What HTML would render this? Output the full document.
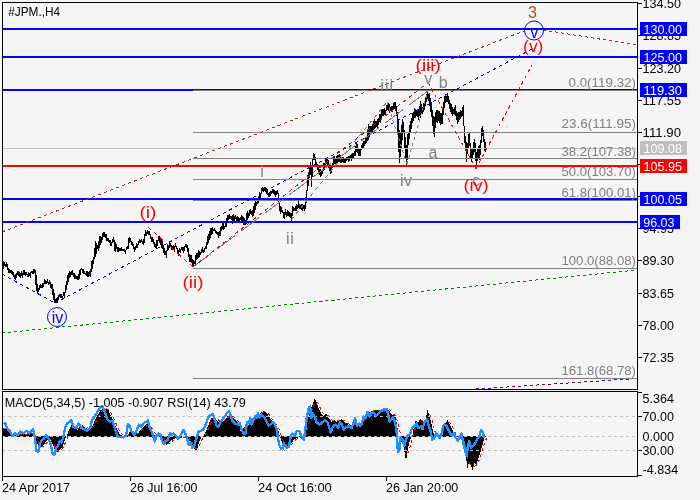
<!DOCTYPE html>
<html><head><meta charset="utf-8"><title>chart</title>
<style>
html,body{margin:0;padding:0;background:#f5f5f5;}
body{width:700px;height:500px;overflow:hidden;}
svg{display:block;font-family:"Liberation Sans",sans-serif;will-change:transform;}
</style></head><body>
<svg width="700" height="500" viewBox="0 0 700 500">
<rect x="0" y="0" width="700" height="500" fill="#f5f5f5"/>
<path d="M3.5 260.8V268.6M4.5 261.5V265.8M5.5 264.0V266.6M6.5 262.3V267.0M7.5 264.3V269.5M8.5 268.2V273.1M9.5 269.4V273.3M10.5 270.4V272.9M11.5 270.4V274.2M12.5 270.8V275.4M13.5 272.3V276.8M14.5 274.9V279.2M15.5 274.0V279.7M16.5 272.6V278.3M17.5 271.4V275.1M18.5 270.7V275.5M19.5 272.3V277.2M20.5 272.5V277.6M21.5 270.6V276.0M22.5 273.3V277.8M23.5 270.4V274.9M24.5 270.2V275.1M25.5 272.4V275.8M26.5 271.9V274.9M27.5 273.8V277.3M28.5 272.4V276.5M29.5 272.8V276.1M30.5 272.2V277.5M31.5 271.2V273.4M32.5 270.7V274.0M33.5 269.2V273.8M34.5 268.8V273.3M35.5 270.2V285.4M36.5 275.3V290.5M37.5 284.3V293.9M38.5 287.6V292.2M39.5 285.2V289.5M40.5 283.8V287.9M41.5 285.2V288.1M42.5 282.8V288.4M43.5 283.1V287.0M44.5 279.2V283.6M45.5 279.5V284.2M46.5 280.6V283.7M47.5 278.6V282.9M48.5 281.9V284.8M49.5 280.4V284.4M50.5 282.1V288.0M51.5 284.3V288.9M52.5 284.3V294.5M53.5 288.9V300.1M54.5 293.2V303.0M55.5 299.2V302.6M56.5 297.6V302.7M57.5 297.4V302.8M58.5 295.1V299.6M59.5 293.7V296.8M60.5 294.2V297.8M61.5 293.5V297.8M62.5 295.7V299.6M63.5 292.4V296.2M64.5 292.2V298.1M65.5 285.1V293.3M66.5 280.7V290.2M67.5 275.2V285.3M68.5 273.4V282.0M69.5 271.4V277.8M70.5 272.1V276.6M71.5 270.6V274.7M72.5 269.9V274.6M73.5 272.8V276.7M74.5 272.5V279.1M75.5 275.4V278.7M76.5 276.2V278.6M77.5 276.0V279.5M78.5 273.9V280.2M79.5 269.9V278.6M80.5 268.6V275.3M81.5 267.7V270.1M82.5 269.4V272.7M83.5 268.9V273.8M84.5 270.8V273.7M85.5 272.5V274.7M86.5 270.8V276.1M87.5 270.5V276.7M88.5 271.9V276.7M89.5 271.0V275.6M90.5 269.0V276.6M91.5 261.4V271.6M92.5 259.7V269.0M93.5 256.9V263.6M94.5 247.7V258.6M95.5 241.4V256.7M96.5 243.2V253.9M97.5 244.5V249.4M98.5 241.1V250.8M99.5 235.7V247.5M100.5 236.4V245.3M101.5 236.5V242.7M102.5 232.6V240.0M103.5 232.2V237.0M104.5 232.1V236.5M105.5 233.5V237.9M106.5 234.0V240.7M107.5 237.8V240.5M108.5 238.0V242.1M109.5 239.5V242.7M110.5 240.2V245.8M111.5 242.4V246.1M112.5 239.2V242.9M113.5 237.4V242.4M114.5 239.6V250.9M115.5 242.2V252.2M116.5 243.8V248.7M117.5 246.8V252.2M118.5 247.4V251.7M119.5 247.7V250.9M120.5 247.7V251.2M121.5 247.3V250.9M122.5 248.5V251.0M123.5 248.9V251.4M124.5 248.6V252.3M125.5 249.6V254.4M126.5 246.7V250.1M127.5 246.2V249.2M128.5 237.9V248.8M129.5 237.1V243.1M130.5 238.2V242.2M131.5 240.7V244.6M132.5 242.0V245.6M133.5 244.4V248.7M134.5 247.3V252.4M135.5 246.4V250.4M136.5 243.0V248.4M137.5 244.4V247.7M138.5 241.2V245.3M139.5 239.1V242.6M140.5 240.3V242.8M141.5 239.1V242.4M142.5 240.8V244.2M143.5 239.3V244.6M144.5 233.9V242.8M145.5 230.0V236.3M146.5 232.1V236.4M147.5 230.2V233.5M148.5 231.4V234.6M149.5 231.2V234.6M150.5 234.1V238.5M151.5 236.8V242.4M152.5 236.7V242.1M153.5 239.3V243.5M154.5 242.1V246.7M155.5 244.0V247.5M156.5 239.7V248.7M157.5 239.6V246.1M158.5 236.0V240.7M159.5 236.4V242.6M160.5 238.8V244.6M161.5 238.3V248.2M162.5 240.8V249.4M163.5 244.9V252.8M164.5 248.0V255.3M165.5 251.4V255.2M166.5 249.8V258.2M167.5 244.7V251.2M168.5 244.6V250.0M169.5 242.2V247.6M170.5 242.6V246.9M171.5 244.7V250.0M172.5 246.1V249.6M173.5 244.9V249.2M174.5 245.9V251.5M175.5 243.3V247.0M176.5 245.7V249.3M177.5 248.1V254.0M178.5 250.1V255.5M179.5 248.0V252.4M180.5 249.2V252.6M181.5 246.5V249.7M182.5 247.2V251.3M183.5 247.0V253.3M184.5 245.9V250.6M185.5 243.9V247.0M186.5 244.1V247.8M187.5 244.9V252.0M188.5 248.2V257.3M189.5 253.7V262.1M190.5 255.3V262.4M191.5 255.0V262.8M192.5 259.1V266.5M193.5 259.9V265.7M194.5 260.5V264.1M195.5 255.3V264.4M196.5 252.7V259.9M197.5 253.3V259.4M198.5 250.3V258.0M199.5 250.9V256.6M200.5 251.8V254.9M201.5 249.2V252.8M202.5 246.7V251.5M203.5 249.7V253.3M204.5 247.5V251.8M205.5 245.6V248.7M206.5 241.5V249.2M207.5 236.3V244.9M208.5 233.6V243.4M209.5 230.7V240.3M210.5 227.9V237.6M211.5 228.0V234.8M212.5 226.6V234.1M213.5 228.5V230.9M214.5 228.1V231.4M215.5 229.6V233.4M216.5 230.8V234.3M217.5 231.5V234.7M218.5 232.0V237.6M219.5 230.9V235.6M220.5 226.6V235.7M221.5 225.5V230.9M222.5 222.9V228.8M223.5 223.4V230.4M224.5 225.6V229.0M225.5 221.5V227.3M226.5 217.6V226.8M227.5 214.5V222.2M228.5 215.3V220.1M229.5 214.1V219.3M230.5 216.4V219.4M231.5 215.7V219.7M232.5 214.9V224.3M233.5 213.9V223.3M234.5 216.1V222.8M235.5 215.4V218.5M236.5 216.8V222.9M237.5 216.4V220.5M238.5 217.4V223.0M239.5 217.8V223.0M240.5 216.7V219.9M241.5 214.5V220.7M242.5 216.4V220.7M243.5 217.4V224.5M244.5 218.4V224.9M245.5 219.7V225.4M246.5 212.8V223.5M247.5 211.2V220.3M248.5 213.4V218.1M249.5 210.4V215.9M250.5 209.4V214.3M251.5 210.5V214.9M252.5 210.2V216.5M253.5 205.5V216.2M254.5 202.8V213.4M255.5 200.2V209.5M256.5 201.5V205.9M257.5 198.5V204.0M258.5 196.0V202.7M259.5 192.2V199.4M260.5 193.8V198.4M261.5 188.2V194.3M262.5 186.5V191.4M263.5 187.6V191.5M264.5 187.1V191.2M265.5 186.9V191.5M266.5 188.0V194.3M267.5 190.0V194.5M268.5 193.0V197.2M269.5 192.2V196.5M270.5 190.6V196.2M271.5 191.3V194.3M272.5 189.0V193.0M273.5 188.9V194.3M274.5 189.9V195.3M275.5 191.4V196.5M276.5 190.8V194.7M277.5 189.7V193.5M278.5 193.0V204.1M279.5 202.3V210.5M280.5 205.9V214.1M281.5 206.6V212.3M282.5 209.6V213.4M283.5 211.8V217.7M284.5 212.4V219.0M285.5 208.9V215.0M286.5 211.7V216.7M287.5 210.0V215.6M288.5 211.4V216.3M289.5 212.0V217.3M290.5 213.3V218.4M291.5 213.3V221.5M292.5 205.7V215.6M293.5 207.2V210.9M294.5 207.8V210.8M295.5 206.2V211.0M296.5 204.3V210.6M297.5 204.7V208.7M298.5 201.2V207.7M299.5 203.5V208.8M300.5 204.6V208.6M301.5 203.6V210.3M302.5 204.2V210.5M303.5 204.8V209.1M304.5 204.8V210.6M305.5 197.1V208.7M306.5 190.4V203.0M307.5 174.8V190.9M308.5 172.4V185.6M309.5 166.0V178.0M310.5 162.2V174.8M311.5 166.4V186.8M312.5 158.0V177.2M313.5 153.3V160.0M314.5 154.4V159.8M315.5 156.8V164.0M316.5 161.6V165.8M317.5 164.2V170.0M318.5 165.9V173.6M319.5 169.4V175.0M320.5 168.9V177.2M321.5 170.3V176.0M322.5 168.8V173.8M323.5 162.7V171.2M324.5 162.8V169.5M325.5 159.2V165.0M326.5 158.8V164.1M327.5 157.7V165.2M328.5 159.8V168.2M329.5 164.5V171.2M330.5 165.8V173.7M331.5 165.2V172.8M332.5 162.6V168.2M333.5 157.1V164.6M334.5 155.9V164.0M335.5 158.0V165.3M336.5 155.9V163.0M337.5 154.9V162.8M338.5 155.1V162.2M339.5 154.4V162.4M340.5 155.0V162.8M341.5 156.5V162.5M342.5 156.8V162.2M343.5 156.5V163.4M344.5 158.6V163.2M345.5 159.4V162.8M346.5 157.4V161.0M347.5 156.5V160.3M348.5 156.2V162.2M349.5 155.6V161.0M350.5 155.0V158.5M351.5 153.9V161.0M352.5 152.5V159.2M353.5 152.7V158.0M354.5 151.4V156.1M355.5 146.4V155.6M356.5 143.0V152.0M357.5 143.6V153.2M358.5 149.4V155.6M359.5 148.6V156.2M360.5 147.8V155.7M361.5 144.8V150.1M362.5 143.0V148.9M363.5 141.1V148.4M364.5 141.0V146.0M365.5 136.7V143.6M366.5 136.7V143.4M367.5 129.0V141.1M368.5 123.8V139.7M369.5 125.5V136.7M370.5 125.8V134.2M371.5 125.7V133.1M372.5 124.2V133.3M373.5 120.7V129.9M374.5 118.9V128.7M375.5 120.6V128.3M376.5 120.9V127.0M377.5 118.6V127.9M378.5 117.5V125.2M379.5 113.6V121.9M380.5 113.5V123.3M381.5 108.8V119.7M382.5 108.5V115.7M383.5 108.6V116.4M384.5 107.9V114.8M385.5 110.1V114.8M386.5 104.5V110.8M387.5 101.9V110.3M388.5 103.1V110.8M389.5 104.1V112.8M390.5 106.5V110.7M391.5 106.2V111.9M392.5 105.5V111.5M393.5 103.2V109.3M394.5 102.3V109.2M395.5 102.2V110.7M396.5 106.2V116.0M397.5 111.5V131.7M398.5 119.0V152.0M399.5 129.5V162.5M400.5 132.5V156.5M401.5 125.0V149.0M402.5 119.0V140.0M403.5 122.0V132.5M404.5 129.5V147.5M405.5 137.0V158.0M406.5 144.5V164.7M407.5 134.0V160.0M408.5 132.5V144.5M409.5 125.0V138.5M410.5 120.5V132.5M411.5 118.0V129.0M412.5 113.0V123.0M413.5 111.5V120.5M414.5 108.2V117.5M415.5 109.2V118.2M416.5 110.0V116.1M417.5 109.2V116.7M418.5 108.5V119.7M419.5 105.5V116.0M420.5 101.0V117.5M421.5 104.0V114.5M422.5 106.8V113.7M423.5 103.2V112.2M424.5 100.5V109.5M425.5 96.5V105.5M426.5 94.1V102.0M427.5 91.0V99.0M428.5 94.3V101.1M429.5 93.0V105.6M430.5 98.2V112.0M431.5 101.9V117.1M432.5 109.9V125.9M433.5 116.3V133.6M434.5 116.7V137.3M435.5 111.6V127.6M436.5 110.2V122.3M437.5 110.1V123.2M438.5 111.0V120.6M439.5 111.0V122.9M440.5 112.7V124.8M441.5 112.9V123.7M442.5 107.0V123.9M443.5 101.9V115.4M444.5 96.2V108.2M445.5 96.2V103.4M446.5 96.1V101.8M447.5 95.4V101.6M448.5 96.3V104.0M449.5 100.0V108.7M450.5 103.3V112.2M451.5 104.3V114.1M452.5 107.3V115.8M453.5 109.1V113.8M454.5 106.5V115.3M455.5 104.9V115.7M456.5 110.7V119.6M457.5 113.0V124.0M458.5 112.0V122.0M459.5 111.6V120.0M460.5 110.4V119.0M461.5 110.7V116.9M462.5 107.0V116.0M463.5 104.7V126.0M464.5 125.5V143.0M465.5 136.0V149.0M466.5 141.5V161.7M467.5 143.0V153.5M468.5 134.0V149.0M469.5 133.0V146.0M470.5 143.0V158.0M471.5 149.0V161.7M472.5 147.5V158.0M473.5 141.5V155.0M474.5 138.5V152.0M475.5 143.0V161.0M476.5 152.0V164.7M477.5 149.0V161.0M478.5 146.0V158.0M479.5 144.5V159.5M480.5 140.0V155.0M481.5 128.0V143.0M482.5 125.6V135.5M483.5 130.0V141.5M484.5 138.5V150.5M485.5 141.5V152.0" stroke="#000" stroke-width="1" fill="none" shape-rendering="crispEdges"/>
<rect x="3" y="148" width="634" height="1" fill="#c0c0c0"/>
<rect x="3" y="28" width="634" height="2" fill="#0000ff"/>
<rect x="3" y="56" width="634" height="2" fill="#0000ff"/>
<rect x="3" y="89" width="634" height="2" fill="#0000ff"/>
<rect x="3" y="198" width="634" height="2" fill="#0000ff"/>
<rect x="3" y="221" width="634" height="2" fill="#0000ff"/>
<rect x="193" y="90" width="444" height="1" fill="#808080"/>
<rect x="193" y="132" width="444" height="1" fill="#808080"/>
<rect x="193" y="158" width="444" height="1" fill="#808080"/>
<rect x="193" y="179" width="444" height="1" fill="#808080"/>
<rect x="193" y="200" width="444" height="1" fill="#808080"/>
<rect x="193" y="268" width="444" height="1" fill="#808080"/>
<rect x="193" y="378" width="444" height="1" fill="#808080"/>
<rect x="3" y="165" width="634" height="2" fill="#ff0000"/>
<text x="568.5" y="87" font-size="13" fill="#808080" textLength="67.5" lengthAdjust="spacingAndGlyphs">0.0(119.32)</text>
<text x="561.5" y="128" font-size="13" fill="#808080" textLength="74.5" lengthAdjust="spacingAndGlyphs">23.6(111.95)</text>
<text x="561.5" y="156" font-size="13" fill="#808080" textLength="74.5" lengthAdjust="spacingAndGlyphs">38.2(107.38)</text>
<text x="561.5" y="176" font-size="13" fill="#808080" textLength="74.5" lengthAdjust="spacingAndGlyphs">50.0(103.70)</text>
<text x="561.5" y="197" font-size="13" fill="#808080" textLength="74.5" lengthAdjust="spacingAndGlyphs">61.8(100.01)</text>
<text x="561.5" y="265" font-size="13" fill="#808080" textLength="74.5" lengthAdjust="spacingAndGlyphs">100.0(88.08)</text>
<text x="561.5" y="375" font-size="13" fill="#808080" textLength="74.5" lengthAdjust="spacingAndGlyphs">161.8(68.78)</text>
<path d="M2.0 232.0L524.0 31.0" stroke="#a52a2a" stroke-width="1" stroke-dasharray="3.21 3.21" stroke-dashoffset="0.00" fill="none" shape-rendering="crispEdges"/>
<path d="M543.0 30.0L637.0 45.0" stroke="#a52a2a" stroke-width="1" stroke-dasharray="3.04 3.04" stroke-dashoffset="0.00" fill="none" shape-rendering="crispEdges"/>
<path d="M2.0 333.0L637.0 270.0" stroke="#008000" stroke-width="1" stroke-dasharray="3.01 3.01" stroke-dashoffset="0.00" fill="none" shape-rendering="crispEdges"/>
<path d="M476.0 389.0L630.0 379.0" stroke="#4b0082" stroke-width="1" stroke-dasharray="3.01 3.01" stroke-dashoffset="0.00" fill="none" shape-rendering="crispEdges"/>
<path d="M2.0 274.0L55.0 303.0" stroke="#0000ff" stroke-width="1" stroke-dasharray="3.42 3.42" stroke-dashoffset="0.00" fill="none" shape-rendering="crispEdges"/>
<path d="M55.0 303.0L532.0 49.0" stroke="#0000ff" stroke-width="1" stroke-dasharray="3.40 3.40" stroke-dashoffset="0.00" fill="none" shape-rendering="crispEdges"/>
<path d="M193.0 267.0L428.0 91.0" stroke="#808080" stroke-width="1" stroke-dasharray="22.49 7.50" stroke-dashoffset="0.00" fill="none" shape-rendering="crispEdges"/>
<path d="M291.0 220.0L387.0 102.0" stroke="#808080" stroke-width="1" stroke-dasharray="3.87 3.87" stroke-dashoffset="0.00" fill="none" shape-rendering="crispEdges"/>
<path d="M387.0 102.0L407.0 164.0" stroke="#808080" stroke-width="1" stroke-dasharray="3.15 3.15" stroke-dashoffset="0.00" fill="none" shape-rendering="crispEdges"/>
<path d="M407.0 164.0L428.0 91.0" stroke="#808080" stroke-width="1" stroke-dasharray="3.12 3.12" stroke-dashoffset="0.00" fill="none" shape-rendering="crispEdges"/>
<path d="M148.0 227.0L193.0 267.0" stroke="#ff0000" stroke-width="1" stroke-dasharray="4.01 4.01" stroke-dashoffset="0.00" fill="none" shape-rendering="crispEdges"/>
<path d="M193.0 267.0L428.0 82.5" stroke="#ff0000" stroke-width="1" stroke-dasharray="3.81 3.81" stroke-dashoffset="0.00" fill="none" shape-rendering="crispEdges"/>
<path d="M428.0 82.5L476.0 168.5" stroke="#ff0000" stroke-width="1" stroke-dasharray="3.44 3.44" stroke-dashoffset="0.00" fill="none" shape-rendering="crispEdges"/>
<path d="M476.0 168.5L532.0 65.0" stroke="#ff0000" stroke-width="1" stroke-dasharray="3.41 3.41" stroke-dashoffset="0.00" fill="none" shape-rendering="crispEdges"/>
<text x="262.0" y="176.6" text-anchor="middle" font-size="16" fill="#808080" letter-spacing="0">i</text>
<text x="290.15000000000003" y="243.6" text-anchor="middle" font-size="16" fill="#808080" letter-spacing="0.7">ii</text>
<text x="387.25" y="91" text-anchor="middle" font-size="16" fill="#808080" letter-spacing="0.9">iii</text>
<text x="406.15" y="185.5" text-anchor="middle" font-size="16" fill="#808080" letter-spacing="0.3">iv</text>
<text x="428.2" y="83.7" text-anchor="middle" font-size="16" fill="#808080" letter-spacing="0">v</text>
<text x="443.2" y="88" text-anchor="middle" font-size="16" fill="#808080" letter-spacing="0">b</text>
<text x="433.0" y="158" text-anchor="middle" font-size="16" fill="#808080" letter-spacing="0">a</text>
<text x="476.0" y="186.4" text-anchor="middle" font-size="16" fill="#808080" letter-spacing="0">c</text>
<text x="139.5" y="218" font-size="16" fill="#ff0000" textLength="17" lengthAdjust="spacingAndGlyphs">(i)</text>
<text x="182.6" y="288" font-size="16" fill="#ff0000" textLength="20.8" lengthAdjust="spacingAndGlyphs">(ii)</text>
<text x="415.6" y="70.5" font-size="16" fill="#ff0000" textLength="25.2" lengthAdjust="spacingAndGlyphs">(iii)</text>
<text x="463.4" y="191" font-size="16" fill="#ff0000" textLength="25.3" lengthAdjust="spacingAndGlyphs">(iv)</text>
<text x="523.1" y="51.8" font-size="16" fill="#ff0000" textLength="20.3" lengthAdjust="spacingAndGlyphs">(v)</text>
<circle cx="57" cy="317" r="9.5" stroke="#0000ff" fill="none"/>
<text x="57.5" y="323.4" text-anchor="middle" font-size="16" fill="#0000ff">iv</text>
<circle cx="534" cy="30.5" r="9.5" stroke="#0000ff" fill="none"/>
<text x="534.2" y="37.6" text-anchor="middle" font-size="16" fill="#0000ff">v</text>
<text x="532.5" y="18" text-anchor="middle" font-size="16" fill="#a0522d">3</text>
<text x="8.2" y="16" font-size="13" fill="#000" textLength="52" lengthAdjust="spacingAndGlyphs">#JPM.,H4</text>
<path d="M3.5 429.0V437M4.5 428.6V437M5.5 428.2V437M6.5 428.6V437M7.5 429.7V437M8.5 430.7V437M9.5 431.7V437M10.5 432.7V437M11.5 433.5V437M12.5 434.0V437M13.5 434.6V437M14.5 435.1V437M15.5 435.1V437M16.5 434.9V437M17.5 434.8V437M18.5 434.6V437M19.5 434.5V437M20.5 434.4V437M21.5 434.3V437M22.5 434.3V437M23.5 434.2V437M24.5 434.1V437M25.5 434.0V437M26.5 433.9V437M27.5 433.8V437M28.5 433.7V437M29.5 433.7V437M30.5 433.6V437M31.5 433.5V437M32.5 433.4V437M33.5 434.2V437M34.5 435.0V437M35.5 436V436.5M36.5 436V440.7M37.5 436V444.4M38.5 436V447.4M39.5 436V448.2M40.5 436V447.5M41.5 436V446.8M42.5 436V445.8M43.5 436V444.8M44.5 436V443.7M45.5 436V442.3M46.5 436V441.0M47.5 436V440.1M48.5 436V439.4M49.5 436V438.8M50.5 436V440.3M51.5 436V441.9M52.5 436V443.7M53.5 436V446.4M54.5 436V449.1M55.5 436V450.7M56.5 436V451.4M57.5 436V452.0M58.5 436V451.1M59.5 436V450.2M60.5 436V449.2M61.5 436V447.9M62.5 436V446.6M63.5 436V444.3M64.5 436V441.1M65.5 436V437.9M66.5 436V436.3M67.5 434.0V437M68.5 431.1V437M69.5 428.6V437M70.5 426.9V437M71.5 425.2V437M72.5 425.1V437M73.5 426.0V437M74.5 427.0V437M75.5 428.0V437M76.5 429.0V437M77.5 429.5V437M78.5 428.2V437M79.5 426.9V437M80.5 426.1V437M81.5 425.7V437M82.5 425.4V437M83.5 426.1V437M84.5 426.8V437M85.5 427.5V437M86.5 428.1V437M87.5 428.6V437M88.5 429.2V437M89.5 429.7V437M90.5 428.9V437M91.5 427.6V437M92.5 426.2V437M93.5 423.8V437M94.5 421.4V437M95.5 419.2V437M96.5 417.2V437M97.5 415.2V437M98.5 413.5V437M99.5 411.8V437M100.5 410.2V437M101.5 409.5V437M102.5 408.9V437M103.5 408.5V437M104.5 408.7V437M105.5 408.9V437M106.5 409.3V437M107.5 409.7V437M108.5 410.2V437M109.5 412.5V437M110.5 414.8V437M111.5 417.0V437M112.5 419.0V437M113.5 421.0V437M114.5 423.2V437M115.5 425.6V437M116.5 428.0V437M117.5 430.0V437M118.5 431.9V437M119.5 433.6V437M120.5 434.5V437M121.5 435.4V437M122.5 435.7V437M123.5 435.7V437M124.5 435.7V437M125.5 435.7V437M126.5 435.7V437M127.5 435.7V437M128.5 433.6V437M129.5 431.6V437M130.5 431.3V437M131.5 430.9V437M132.5 431.1V437M133.5 432.1V437M134.5 433.1V437M135.5 433.6V437M136.5 434.0V437M137.5 434.3V437M138.5 432.6V437M139.5 430.8V437M140.5 429.5V437M141.5 428.9V437M142.5 428.2V437M143.5 427.3V437M144.5 426.4V437M145.5 425.4V437M146.5 424.4V437M147.5 423.8V437M148.5 424.8V437M149.5 426.4V437M150.5 428.8V437M151.5 430.6V437M152.5 432.0V437M153.5 433.4V437M154.5 434.7V437M155.5 435.7V437M156.5 435.9V437M157.5 436V436.1M158.5 436V436.3M159.5 436V436.5M160.5 436V436.8M161.5 436V437.0M162.5 436V438.9M163.5 436V440.9M164.5 436V442.6M165.5 436V443.6M166.5 436V444.6M167.5 436V444.4M168.5 436V443.3M169.5 436V442.3M170.5 436V441.3M171.5 436V440.4M172.5 436V439.5M173.5 436V439.0M174.5 436V438.6M175.5 436V438.1M176.5 436V438.0M177.5 436V438.3M178.5 436V438.5M179.5 436V438.8M180.5 436V438.2M181.5 436V437.8M182.5 436V437.2M183.5 436V437.0M184.5 436V437.0M185.5 436V437.0M186.5 436V437.0M187.5 436V437.0M188.5 436V439.0M189.5 436V441.1M190.5 436V442.8M191.5 436V444.2M192.5 436V445.5M193.5 436V447.3M194.5 436V449.3M195.5 436V451.2M196.5 436V449.8M197.5 436V447.8M198.5 436V443.8M199.5 436V440.7M200.5 436V439.1M201.5 436V437.4M202.5 436V436.4M203.5 435.7V437M204.5 433.8V437M205.5 432.0V437M206.5 429.9V437M207.5 427.3V437M208.5 424.7V437M209.5 422.4V437M210.5 420.3V437M211.5 418.2V437M212.5 417.9V437M213.5 417.5V437M214.5 417.6V437M215.5 418.6V437M216.5 419.6V437M217.5 420.6V437M218.5 421.7V437M219.5 422.7V437M220.5 422.4V437M221.5 422.1V437M222.5 421.6V437M223.5 420.6V437M224.5 419.6V437M225.5 418.6V437M226.5 417.5V437M227.5 416.4V437M228.5 415.8V437M229.5 415.1V437M230.5 414.9V437M231.5 416.4V437M232.5 417.6V437M233.5 418.2V437M234.5 418.9V437M235.5 419.8V437M236.5 420.8V437M237.5 421.8V437M238.5 422.5V437M239.5 423.2V437M240.5 430.7V437M241.5 429.7V437M242.5 428.7V437M243.5 427.8V437M244.5 427.2V437M245.5 426.5V437M246.5 425.8V437M247.5 425.2V437M248.5 424.5V437M249.5 423.5V437M250.5 422.5V437M251.5 421.5V437M252.5 420.5V437M253.5 419.5V437M254.5 418.5V437M255.5 417.4V437M256.5 416.4V437M257.5 415.4V437M258.5 414.5V437M259.5 413.6V437M260.5 412.9V437M261.5 412.3V437M262.5 411.8V437M263.5 411.4V437M264.5 411.0V437M265.5 412.0V437M266.5 413.0V437M267.5 414.1V437M268.5 415.7V437M269.5 417.4V437M270.5 418.9V437M271.5 420.4V437M272.5 421.8V437M273.5 422.8V437M274.5 423.7V437M275.5 424.8V437M276.5 426.5V437M277.5 428.2V437M278.5 430.9V437M279.5 434.6V437M280.5 436V438.0M281.5 436V441.4M282.5 436V442.8M283.5 436V444.0M284.5 436V444.4M285.5 436V444.8M286.5 436V445.2M287.5 436V445.5M288.5 436V445.8M289.5 436V445.1M290.5 436V444.1M291.5 436V443.1M292.5 436V441.7M293.5 436V440.4M294.5 436V439.3M295.5 436V438.7M296.5 436V438.1M297.5 436V437.7M298.5 436V437.3M299.5 436V437.0M300.5 436V437.0M301.5 436V437.0M302.5 436V437.0M303.5 436V436.7M304.5 436V436.2M305.5 435.7V437M306.5 428.8V437M307.5 421.8V437M308.5 416.7V437M309.5 412.3V437M310.5 409.7V437M311.5 407.4V437M312.5 405.4V437M313.5 402.2V437M314.5 398.6V437M315.5 400.4V437M316.5 402.3V437M317.5 405.4V437M318.5 408.1V437M319.5 410.1V437M320.5 412.1V437M321.5 413.5V437M322.5 414.5V437M323.5 415.5V437M324.5 414.9V437M325.5 414.2V437M326.5 414.2V437M327.5 415.9V437M328.5 417.5V437M329.5 419.0V437M330.5 420.4V437M331.5 421.8V437M332.5 421.1V437M333.5 420.5V437M334.5 420.2V437M335.5 420.8V437M336.5 421.5V437M337.5 421.4V437M338.5 420.7V437M339.5 420.0V437M340.5 419.5V437M341.5 419.2V437M342.5 420.2V437M343.5 421.2V437M344.5 422.1V437M345.5 422.8V437M346.5 423.4V437M347.5 424.1V437M348.5 424.7V437M349.5 425.4V437M350.5 425.1V437M351.5 424.9V437M352.5 424.6V437M353.5 424.4V437M354.5 424.1V437M355.5 423.9V437M356.5 423.6V437M357.5 423.4V437M358.5 423.1V437M359.5 422.9V437M360.5 423.6V437M361.5 422.3V437M362.5 420.9V437M363.5 419.6V437M364.5 418.3V437M365.5 416.9V437M366.5 415.6V437M367.5 414.2V437M368.5 412.9V437M369.5 412.2V437M370.5 411.5V437M371.5 410.9V437M372.5 410.7V437M373.5 410.5V437M374.5 410.3V437M375.5 410.2V437M376.5 410.2V437M377.5 410.2V437M378.5 410.2V437M379.5 409.9V437M380.5 409.7V437M381.5 409.4V437M382.5 409.1V437M383.5 408.7V437M384.5 408.4V437M385.5 408.4V437M386.5 408.4V437M387.5 408.7V437M388.5 410.0V437M389.5 411.3V437M390.5 412.5V437M391.5 413.6V437M392.5 414.6V437M393.5 415.2V437M394.5 415.9V437M395.5 417.3V437M396.5 421.8V437M397.5 427.9V437M398.5 435.8V437M399.5 436V437.3M400.5 436V438.8M401.5 436V441.5M402.5 436V444.3M403.5 436V447.2M404.5 436V451.5M405.5 436V457.6M406.5 436V458.2M407.5 436V451.0M408.5 436V446.0M409.5 436V442.2M410.5 436V438.8M411.5 436V437.1M412.5 434.7V437M413.5 429.4V437M414.5 424.9V437M415.5 421.4V437M416.5 421.4V437M417.5 423.6V437M418.5 422.0V437M419.5 420.4V437M420.5 419.3V437M421.5 420.3V437M422.5 421.3V437M423.5 421.1V437M424.5 419.8V437M425.5 418.5V437M426.5 414.6V437M427.5 410.2V437M428.5 413.2V437M429.5 416.4V437M430.5 420.0V437M431.5 424.0V437M432.5 428.5V437M433.5 433.0V437M434.5 435.8V437M435.5 436V436.1M436.5 436V436.4M437.5 436V436.2M438.5 436.0V437M439.5 435.8V437M440.5 434.7V437M441.5 432.7V437M442.5 430.7V437M443.5 428.2V437M444.5 425.6V437M445.5 423.3V437M446.5 421.6V437M447.5 420.0V437M448.5 422.0V437M449.5 423.9V437M450.5 425.9V437M451.5 427.8V437M452.5 429.8V437M453.5 433.2V437M454.5 435.7V437M455.5 435.8V437M456.5 435.9V437M457.5 436.0V437M458.5 436V436.2M459.5 436V436.5M460.5 436V436.8M461.5 436V437.2M462.5 436V439.7M463.5 436V442.9M464.5 436V447.9M465.5 436V454.0M466.5 436V461.1M467.5 436V468.2M468.5 436V463.7M469.5 436V462.0M470.5 436V464.5M471.5 436V467.0M472.5 436V469.6M473.5 436V466.2M474.5 436V462.9M475.5 436V464.4M476.5 436V464.5M477.5 436V461.0M478.5 436V457.8M479.5 436V454.9M480.5 436V451.6M481.5 436V448.2M482.5 436V444.7M483.5 436V441.2M484.5 436V438.3M485.5 436V437.0" stroke="#000" stroke-width="1" fill="none" shape-rendering="crispEdges"/>
<path d="M2 416.5H637" stroke="#c0c0c0" stroke-dasharray="3 3" shape-rendering="crispEdges"/>
<path d="M2 436.5H637" stroke="#c0c0c0" stroke-dasharray="3 3" shape-rendering="crispEdges"/>
<path d="M2 450.5H637" stroke="#c0c0c0" stroke-dasharray="3 3" shape-rendering="crispEdges"/>
<path d="M3.0 429.0 L4.0 428.9 L5.0 428.8 L6.0 428.7 L7.0 428.8 L8.0 429.1 L9.0 429.8 L10.0 430.7 L11.0 431.7 L12.0 432.5 L13.0 433.3 L14.0 434.0 L15.0 434.5 L16.0 434.7 L17.0 434.9 L18.0 434.9 L19.0 434.8 L20.0 434.6 L21.0 434.5 L22.0 434.4 L23.0 434.3 L24.0 434.3 L25.0 434.2 L26.0 434.1 L27.0 434.0 L28.0 433.9 L29.0 433.8 L30.0 433.7 L31.0 433.7 L32.0 433.6 L33.0 433.7 L34.0 433.9 L35.0 434.5 L36.0 436.0 L37.0 438.2 L38.0 440.8 L39.0 443.4 L40.0 445.6 L41.0 446.9 L42.0 447.1 L43.0 446.6 L44.0 445.7 L45.0 444.7 L46.0 443.5 L47.0 442.4 L48.0 441.3 L49.0 440.3 L50.0 439.9 L51.0 440.1 L52.0 440.8 L53.0 442.2 L54.0 444.3 L55.0 446.4 L56.0 448.3 L57.0 449.9 L58.0 450.9 L59.0 451.1 L60.0 450.8 L61.0 450.1 L62.0 449.0 L63.0 447.6 L64.0 445.8 L65.0 443.6 L66.0 441.2 L67.0 438.7 L68.0 436.1 L69.0 433.6 L70.0 431.4 L71.0 429.2 L72.0 427.4 L73.0 426.3 L74.0 426.0 L75.0 426.3 L76.0 427.0 L77.0 427.9 L78.0 428.4 L79.0 428.3 L80.0 427.9 L81.0 427.3 L82.0 426.5 L83.0 426.0 L84.0 426.0 L85.0 426.3 L86.0 426.8 L87.0 427.4 L88.0 428.1 L89.0 428.6 L90.0 428.9 L91.0 428.8 L92.0 428.3 L93.0 427.2 L94.0 425.6 L95.0 423.7 L96.0 421.6 L97.0 419.4 L98.0 417.3 L99.0 415.4 L100.0 413.6 L101.0 412.0 L102.0 410.8 L103.0 409.8 L104.0 409.2 L105.0 408.9 L106.0 408.8 L107.0 409.0 L108.0 409.4 L109.0 410.1 L110.0 411.3 L111.0 412.8 L112.0 414.7 L113.0 416.9 L114.0 419.0 L115.0 421.2 L116.0 423.4 L117.0 425.6 L118.0 427.7 L119.0 429.8 L120.0 431.6 L121.0 433.1 L122.0 434.2 L123.0 435.0 L124.0 435.4 L125.0 435.6 L126.0 435.7 L127.0 435.7 L128.0 435.3 L129.0 434.5 L130.0 433.6 L131.0 432.6 L132.0 431.7 L133.0 431.4 L134.0 431.7 L135.0 432.2 L136.0 432.8 L137.0 433.4 L138.0 433.5 L139.0 433.1 L140.0 432.2 L141.0 431.2 L142.0 430.0 L143.0 429.0 L144.0 428.1 L145.0 427.2 L146.0 426.3 L147.0 425.5 L148.0 425.0 L149.0 425.0 L150.0 425.6 L151.0 426.9 L152.0 428.5 L153.0 430.2 L154.0 431.9 L155.0 433.3 L156.0 434.4 L157.0 435.2 L158.0 435.8 L159.0 436.1 L160.0 436.3 L161.0 436.6 L162.0 437.1 L163.0 438.0 L164.0 439.2 L165.0 440.6 L166.0 442.1 L167.0 443.2 L168.0 443.7 L169.0 443.6 L170.0 443.2 L171.0 442.3 L172.0 441.4 L173.0 440.5 L174.0 439.8 L175.0 439.1 L176.0 438.6 L177.0 438.4 L178.0 438.3 L179.0 438.3 L180.0 438.4 L181.0 438.3 L182.0 438.1 L183.0 437.8 L184.0 437.4 L185.0 437.2 L186.0 437.1 L187.0 437.0 L188.0 437.4 L189.0 438.2 L190.0 439.4 L191.0 440.8 L192.0 442.5 L193.0 444.2 L194.0 445.8 L195.0 447.5 L196.0 448.6 L197.0 449.1 L198.0 448.4 L199.0 446.7 L200.0 444.2 L201.0 441.8 L202.0 439.5 L203.0 437.9 L204.0 436.5 L205.0 435.1 L206.0 433.6 L207.0 431.7 L208.0 429.5 L209.0 427.2 L210.0 424.9 L211.0 422.6 L212.0 420.7 L213.0 419.2 L214.0 418.3 L215.0 417.9 L216.0 418.2 L217.0 418.8 L218.0 419.6 L219.0 420.6 L220.0 421.4 L221.0 421.9 L222.0 422.1 L223.0 421.9 L224.0 421.2 L225.0 420.5 L226.0 419.6 L227.0 418.5 L228.0 417.6 L229.0 416.7 L230.0 415.9 L231.0 415.7 L232.0 415.9 L233.0 416.4 L234.0 417.2 L235.0 418.2 L236.0 419.1 L237.0 419.9 L238.0 420.8 L239.0 421.6 L240.0 423.8 L241.0 425.6 L242.0 427.0 L243.0 428.0 L244.0 428.8 L245.0 428.0 L246.0 427.2 L247.0 426.5 L248.0 425.8 L249.0 425.1 L250.0 424.3 L251.0 423.4 L252.0 422.5 L253.0 421.5 L254.0 420.5 L255.0 419.5 L256.0 418.5 L257.0 417.5 L258.0 416.4 L259.0 415.5 L260.0 414.6 L261.0 413.7 L262.0 413.0 L263.0 412.4 L264.0 411.9 L265.0 411.7 L266.0 411.8 L267.0 412.3 L268.0 413.2 L269.0 414.4 L270.0 415.8 L271.0 417.3 L272.0 418.8 L273.0 420.2 L274.0 421.5 L275.0 422.7 L276.0 423.9 L277.0 425.2 L278.0 426.8 L279.0 429.0 L280.0 431.6 L281.0 434.6 L282.0 437.5 L283.0 440.2 L284.0 442.1 L285.0 443.5 L286.0 444.2 L287.0 444.8 L288.0 445.1 L289.0 445.3 L290.0 445.1 L291.0 444.7 L292.0 444.0 L293.0 442.9 L294.0 441.7 L295.0 440.6 L296.0 439.6 L297.0 438.8 L298.0 438.2 L299.0 437.7 L300.0 437.4 L301.0 437.2 L302.0 437.1 L303.0 436.9 L304.0 436.8 L305.0 436.5 L306.0 434.9 L307.0 431.8 L308.0 427.8 L309.0 423.0 L310.0 417.8 L311.0 413.6 L312.0 410.3 L313.0 407.4 L314.0 404.7 L315.0 402.8 L316.0 401.8 L317.0 401.8 L318.0 403.0 L319.0 405.3 L320.0 407.6 L321.0 409.8 L322.0 411.7 L323.0 413.1 L324.0 414.1 L325.0 414.5 L326.0 414.7 L327.0 414.9 L328.0 415.3 L329.0 416.2 L330.0 417.4 L331.0 418.9 L332.0 420.0 L333.0 420.6 L334.0 420.8 L335.0 420.9 L336.0 420.8 L337.0 420.9 L338.0 420.9 L339.0 420.9 L340.0 420.6 L341.0 420.2 L342.0 419.9 L343.0 420.0 L344.0 420.4 L345.0 421.1 L346.0 421.9 L347.0 422.7 L348.0 423.4 L349.0 424.1 L350.0 424.6 L351.0 424.9 L352.0 425.0 L353.0 424.9 L354.0 424.6 L355.0 424.4 L356.0 424.1 L357.0 423.9 L358.0 423.6 L359.0 423.4 L360.0 423.3 L361.0 423.0 L362.0 422.6 L363.0 421.9 L364.0 420.9 L365.0 419.6 L366.0 418.3 L367.0 416.9 L368.0 415.6 L369.0 414.4 L370.0 413.3 L371.0 412.4 L372.0 411.6 L373.0 411.2 L374.0 410.8 L375.0 410.5 L376.0 410.4 L377.0 410.3 L378.0 410.2 L379.0 410.1 L380.0 410.0 L381.0 409.9 L382.0 409.6 L383.0 409.4 L384.0 409.1 L385.0 408.8 L386.0 408.6 L387.0 408.5 L388.0 408.8 L389.0 409.4 L390.0 410.2 L391.0 411.2 L392.0 412.4 L393.0 413.5 L394.0 414.4 L395.0 415.3 L396.0 417.0 L397.0 419.6 L398.0 423.8 L399.0 428.0 L400.0 432.3 L401.0 436.3 L402.0 439.5 L403.0 441.8 L404.0 444.7 L405.0 448.4 L406.0 451.7 L407.0 453.1 L408.0 452.8 L409.0 451.0 L410.0 447.2 L411.0 443.0 L412.0 439.7 L413.0 436.4 L414.0 432.9 L415.0 429.5 L416.0 426.3 L417.0 424.1 L418.0 422.6 L419.0 421.7 L420.0 421.3 L421.0 421.1 L422.0 420.7 L423.0 420.5 L424.0 420.4 L425.0 420.2 L426.0 419.1 L427.0 416.8 L428.0 415.3 L429.0 414.6 L430.0 414.9 L431.0 416.8 L432.0 420.4 L433.0 424.4 L434.0 428.3 L435.0 431.5 L436.0 434.0 L437.0 435.5 L438.0 436.1 L439.0 436.1 L440.0 435.8 L441.0 435.1 L442.0 434.0 L443.0 432.4 L444.0 430.4 L445.0 428.1 L446.0 425.9 L447.0 423.7 L448.0 422.5 L449.0 422.2 L450.0 422.7 L451.0 423.9 L452.0 425.9 L453.0 428.1 L454.0 430.5 L455.0 432.5 L456.0 434.1 L457.0 435.3 L458.0 435.9 L459.0 436.1 L460.0 436.3 L461.0 436.5 L462.0 437.3 L463.0 438.6 L464.0 440.9 L465.0 444.3 L466.0 449.1 L467.0 454.8 L468.0 459.0 L469.0 461.8 L470.0 463.9 L471.0 465.1 L472.0 465.4 L473.0 465.9 L474.0 466.1 L475.0 466.0 L476.0 465.5 L477.0 463.8 L478.0 462.1 L479.0 460.5 L480.0 458.0 L481.0 454.7 L482.0 451.4 L483.0 448.1 L484.0 444.8 L485.0 441.9 L486.0 439.6 L487.0 438.1" stroke="#ff0000" stroke-dasharray="3 3" fill="none" shape-rendering="crispEdges"/>
<path d="M3.6 424.5 L5.4 423.2 L7.1 428.0 L9.8 431.6 L12.5 436.0 L15.2 433.4 L17.9 435.2 L20.5 431.6 L23.2 433.4 L26.8 430.7 L29.5 433.4 L33.0 429.0 L34.8 437.0 L36.6 451.2 L38.4 452.0 L40.2 443.2 L42.0 439.6 L43.8 438.8 L46.0 435.2 L48.2 437.9 L50.9 445.0 L52.7 454.0 L54.5 454.8 L56.2 447.7 L58.0 445.9 L59.8 441.4 L61.6 442.3 L63.4 437.0 L65.2 427.0 L67.0 423.6 L69.6 421.8 L71.4 420.0 L73.2 427.0 L75.9 428.0 L78.6 423.6 L81.2 428.0 L83.9 429.0 L87.5 430.7 L90.2 428.0 L92.0 420.0 L94.6 416.4 L97.3 412.0 L100.0 407.5 L102.7 406.6 L104.5 411.0 L107.1 419.1 L109.8 421.8 L112.5 420.9 L115.2 429.8 L117.9 437.0 L121.4 437.0 L123.6 437.5 L126.2 435.2 L128.0 423.6 L129.8 426.2 L131.6 431.6 L134.3 435.2 L137.0 429.8 L138.8 424.5 L141.4 427.0 L144.0 422.7 L146.8 421.8 L147.7 420.0 L149.5 427.0 L151.2 430.7 L153.0 435.2 L154.8 441.4 L156.6 436.0 L158.4 433.4 L160.2 434.3 L162.0 440.5 L163.8 444.0 L165.5 441.4 L167.3 440.5 L170.0 433.4 L171.8 435.2 L173.6 433.4 L176.2 436.0 L178.0 438.8 L180.7 435.2 L183.4 429.8 L185.2 433.4 L187.0 437.9 L188.8 445.0 L190.5 442.3 L192.3 447.7 L194.0 446.8 L195.9 439.6 L198.6 431.6 L201.2 430.7 L204.0 429.0 L205.7 424.5 L208.4 417.3 L211.0 414.6 L212.9 413.8 L214.6 419.1 L216.4 425.4 L218.2 427.0 L220.0 423.6 L222.7 419.1 L225.4 415.5 L227.0 412.9 L229.0 411.0 L230.4 414.6 L232.5 420.9 L235.2 423.6 L237.9 424.5 L240.0 423.6 L241.8 429.8 L243.6 433.4 L245.4 433.4 L247.0 421.8 L249.0 422.7 L250.4 418.2 L251.6 424.5 L253.4 419.1 L255.2 416.4 L257.0 418.2 L257.9 412.9 L259.6 417.3 L261.4 414.6 L263.2 416.4 L265.0 418.2 L266.8 421.8 L268.6 425.4 L270.4 424.5 L273.0 421.8 L274.8 424.5 L276.6 429.0 L278.0 437.9 L279.3 445.0 L281.0 448.6 L282.5 449.5 L283.8 443.2 L285.5 445.9 L287.3 447.7 L289.0 446.8 L290.9 435.2 L292.7 433.4 L294.5 436.0 L297.0 430.7 L299.8 431.6 L301.6 437.0 L304.0 439.6 L305.2 430.7 L307.0 416.4 L308.8 407.5 L310.2 406.6 L311.0 418.2 L312.9 412.9 L315.0 417.3 L316.8 422.7 L319.5 424.5 L322.0 422.7 L324.8 420.0 L327.5 422.7 L329.3 428.0 L330.7 432.5 L332.9 426.2 L335.5 424.5 L338.2 428.0 L340.0 421.8 L341.8 424.5 L343.6 429.8 L346.2 427.0 L349.0 426.2 L351.6 428.0 L353.4 423.6 L355.2 418.2 L357.0 426.2 L359.6 423.6 L360.0 426.2 L361.8 423.6 L363.6 416.4 L365.4 418.2 L367.5 412.0 L369.8 416.4 L371.6 412.9 L374.3 412.9 L376.0 416.4 L378.8 412.9 L381.4 411.0 L384.0 409.3 L386.8 409.3 L388.2 414.6 L389.5 421.8 L391.2 420.0 L393.0 417.3 L394.8 421.8 L396.6 430.7 L397.9 452.0 L399.3 450.4 L400.7 437.0 L402.5 439.6 L404.3 445.9 L406.0 439.6 L407.9 435.2 L410.0 434.3 L412.0 428.0 L414.5 426.2 L416.2 423.6 L418.6 428.0 L420.7 426.2 L422.5 429.0 L424.6 421.8 L427.0 419.1 L428.8 426.2 L430.5 430.7 L432.3 439.6 L434.0 438.8 L435.9 433.4 L437.7 435.2 L439.5 437.9 L441.2 435.2 L443.0 426.2 L444.8 424.5 L446.6 426.2 L448.4 429.8 L450.2 433.4 L452.0 436.0 L453.8 433.4 L455.5 437.0 L457.9 440.5 L459.6 437.9 L461.4 433.4 L462.7 439.6 L464.0 445.9 L465.4 452.0 L466.8 455.7 L468.0 445.0 L469.3 441.4 L471.0 447.7 L473.4 445.9 L475.7 442.3 L477.5 438.8 L479.3 437.0 L481.0 429.8 L482.9 432.5 L484.1 437.9" stroke="#1e90ff" stroke-width="2.4" fill="none" stroke-linejoin="round" shape-rendering="crispEdges"/>
<text x="4.8" y="407" font-size="13" fill="#000" textLength="241" lengthAdjust="spacingAndGlyphs">MACD(5,34,5) -1.005 -0.907 RSI(14) 43.79</text>
<rect x="2" y="2" width="636" height="1" fill="#000"/>
<rect x="2" y="389" width="636" height="1" fill="#000"/>
<rect x="2" y="2" width="1" height="388" fill="#000"/>
<rect x="637" y="2" width="1" height="388" fill="#000"/>
<rect x="2" y="391" width="636" height="1" fill="#000"/>
<rect x="2" y="476" width="636" height="1" fill="#000"/>
<rect x="2" y="391" width="1" height="86" fill="#000"/>
<rect x="637" y="391" width="1" height="86" fill="#000"/>
<rect x="638" y="3" width="4" height="1" fill="#000"/>
<text x="642.6" y="8" font-size="13" fill="#000" textLength="38.5" lengthAdjust="spacingAndGlyphs">134.50</text>
<rect x="638" y="35" width="4" height="1" fill="#000"/>
<text x="642.6" y="40" font-size="13" fill="#000" textLength="38.5" lengthAdjust="spacingAndGlyphs">128.85</text>
<rect x="638" y="68" width="4" height="1" fill="#000"/>
<text x="642.6" y="73" font-size="13" fill="#000" textLength="38.5" lengthAdjust="spacingAndGlyphs">123.20</text>
<rect x="638" y="100" width="4" height="1" fill="#000"/>
<text x="642.6" y="105" font-size="13" fill="#000" textLength="38.5" lengthAdjust="spacingAndGlyphs">117.55</text>
<rect x="638" y="132" width="4" height="1" fill="#000"/>
<text x="642.6" y="137" font-size="13" fill="#000" textLength="38.5" lengthAdjust="spacingAndGlyphs">111.90</text>
<rect x="638" y="164" width="4" height="1" fill="#000"/>
<text x="642.6" y="169" font-size="13" fill="#000" textLength="38.5" lengthAdjust="spacingAndGlyphs">106.25</text>
<rect x="638" y="196" width="4" height="1" fill="#000"/>
<text x="642.6" y="201" font-size="13" fill="#000" textLength="38.5" lengthAdjust="spacingAndGlyphs">100.60</text>
<rect x="638" y="228" width="4" height="1" fill="#000"/>
<text x="642.6" y="233" font-size="13" fill="#000" textLength="31.4" lengthAdjust="spacingAndGlyphs">94.95</text>
<rect x="638" y="260" width="4" height="1" fill="#000"/>
<text x="642.6" y="265" font-size="13" fill="#000" textLength="31.4" lengthAdjust="spacingAndGlyphs">89.30</text>
<rect x="638" y="293" width="4" height="1" fill="#000"/>
<text x="642.6" y="298" font-size="13" fill="#000" textLength="31.4" lengthAdjust="spacingAndGlyphs">83.65</text>
<rect x="638" y="325" width="4" height="1" fill="#000"/>
<text x="642.6" y="330" font-size="13" fill="#000" textLength="31.4" lengthAdjust="spacingAndGlyphs">78.00</text>
<rect x="638" y="357" width="4" height="1" fill="#000"/>
<text x="642.6" y="362" font-size="13" fill="#000" textLength="31.4" lengthAdjust="spacingAndGlyphs">72.35</text>
<rect x="638" y="392" width="4" height="1" fill="#000"/>
<rect x="638" y="475" width="4" height="1" fill="#000"/>
<text x="642.6" y="403" font-size="13" fill="#000" textLength="31.4" lengthAdjust="spacingAndGlyphs">5.364</text>
<rect x="638" y="416" width="4" height="1" fill="#000"/>
<text x="642.6" y="421" font-size="13" fill="#000" textLength="31.4" lengthAdjust="spacingAndGlyphs">70.00</text>
<text x="642.6" y="441" font-size="13" fill="#000" textLength="31.4" lengthAdjust="spacingAndGlyphs">0.000</text>
<rect x="638" y="450" width="4" height="1" fill="#000"/>
<text x="642.6" y="455" font-size="13" fill="#000" textLength="31.4" lengthAdjust="spacingAndGlyphs">30.00</text>
<text x="642.6" y="474" font-size="13" fill="#000" textLength="35.6" lengthAdjust="spacingAndGlyphs">-4.834</text>
<rect x="640" y="22" width="47" height="14" fill="#0000ff"/>
<text x="643.5" y="34" font-size="13" fill="#fff" textLength="38.5" lengthAdjust="spacingAndGlyphs">130.00</text>
<rect x="640" y="50" width="47" height="14" fill="#0000ff"/>
<text x="643.5" y="62" font-size="13" fill="#fff" textLength="38.5" lengthAdjust="spacingAndGlyphs">125.00</text>
<rect x="640" y="83" width="47" height="14" fill="#0000ff"/>
<text x="643.5" y="95" font-size="13" fill="#fff" textLength="38.5" lengthAdjust="spacingAndGlyphs">119.30</text>
<rect x="640" y="141" width="47" height="14" fill="#c0c0c0"/>
<text x="643.5" y="153" font-size="13" fill="#fff" textLength="38.5" lengthAdjust="spacingAndGlyphs">109.08</text>
<rect x="640" y="159" width="47" height="14" fill="#ff0000"/>
<text x="643.5" y="171" font-size="13" fill="#fff" textLength="38.5" lengthAdjust="spacingAndGlyphs">105.95</text>
<rect x="640" y="192" width="47" height="14" fill="#0000ff"/>
<text x="643.5" y="204" font-size="13" fill="#fff" textLength="38.5" lengthAdjust="spacingAndGlyphs">100.05</text>
<rect x="640" y="215" width="40" height="14" fill="#0000ff"/>
<text x="643.2" y="227" font-size="13" fill="#fff" textLength="31.4" lengthAdjust="spacingAndGlyphs">96.03</text>
<rect x="2" y="477" width="1" height="4" fill="#000"/>
<text x="2" y="492" font-size="13" fill="#000" textLength="68" lengthAdjust="spacingAndGlyphs">24 Apr 2017</text>
<rect x="130" y="477" width="1" height="4" fill="#000"/>
<text x="130" y="492" font-size="13" fill="#000" textLength="67.5" lengthAdjust="spacingAndGlyphs">26 Jul 16:00</text>
<rect x="258" y="477" width="1" height="4" fill="#000"/>
<text x="258" y="492" font-size="13" fill="#000" textLength="73.8" lengthAdjust="spacingAndGlyphs">24 Oct 16:00</text>
<rect x="386" y="477" width="1" height="4" fill="#000"/>
<text x="386" y="492" font-size="13" fill="#000" textLength="72.3" lengthAdjust="spacingAndGlyphs">26 Jan 20:00</text>
</svg>
</body></html>
